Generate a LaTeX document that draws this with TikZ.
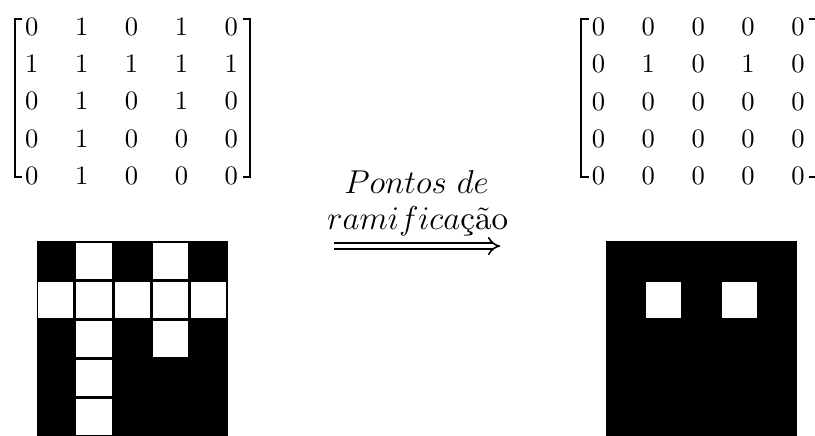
\documentclass[tikz,border=0pt]{standalone}
\usepackage{amsmath}
\usepackage{fontspec}
\usetikzlibrary{matrix,calc,arrows.meta}

\newfontfamily\digfont{lmroman10-regular}[Extension=.otf]

\tikzset{
  binmat/.style={matrix of nodes,
    nodes={minimum width=1.32cm, minimum height=0.985cm, inner sep=0pt,
      font=\digfont\fontsize{20}{24}\selectfont},
    column sep=0pt, row sep=0pt},
  brk/.style={line width=1.6pt},
  lbl/.style={inner sep=0pt, font=\fontsize{24.88}{30}\selectfont},
  pix/.style={fill=white},
}

\begin{document}
\begin{tikzpicture}
			\useasboundingbox (0,0) rectangle (21.56,11.51);

			\matrix (matA) at (3.48,8.83) [binmat] {
				0 & 1 & 0 & 1 & 0 \\
				1 & 1 & 1 & 1 & 1 \\
				0 & 1 & 0 & 1 & 0 \\
				0 & 1 & 0 & 0 & 0 \\
				0 & 1 & 0 & 0 & 0 \\
			};
			\draw[brk] ($(matA-1-1)+(-0.25,0.21)$) -- ++(-0.2,0) |- ($(matA-5-1)+(-0.25,-0.02)$);
			\draw[brk] ($(matA-1-5)+(0.3,0.21)$) -- ++(0.2,0) |- ($(matA-5-5)+(0.3,-0.02)$);

			\matrix (matB) at (18.47,8.83) [binmat] {
				0 & 0 & 0 & 0 & 0 \\
				0 & 1 & 0 & 1 & 0 \\
				0 & 0 & 0 & 0 & 0 \\
				0 & 0 & 0 & 0 & 0 \\
				0 & 0 & 0 & 0 & 0 \\
			};
			\draw[brk] ($(matB-1-1)+(-0.25,0.21)$) -- ++(-0.2,0) |- ($(matB-5-1)+(-0.25,-0.02)$);
			\draw[brk] ($(matB-1-5)+(0.3,0.21)$) -- ++(0.2,0) |- ($(matB-5-5)+(0.3,-0.02)$);

			% arrow with its label
			\node[lbl, anchor=base] (txtA) at (11.02,6.40) {$Pontos\ de$};
			\node[lbl, anchor=base] (txtB) at (11.05,5.45) {$ramifica${\digfont ção}};
			\coordinate (arrS) at (8.84,5.0);
			\coordinate (arrE) at (13.23,5.0);
			\draw[double, double distance=3.5pt, line width=1.2pt, -{Implies[scale=1.25]}] (arrS) -- (arrE);

			% pixel images, white = 1
			\begin{scope}[shift={(0.971,-0.05)}, x=1.01cm, y=1.036cm]
				\fill (0,0) rectangle (5,5);
				\foreach \row [count=\r from 0] in {{0,1,0,1,0},{1,1,1,1,1},{0,1,0,1,0},{0,1,0,0,0},{0,1,0,0,0}}
					\foreach \v [count=\c from 0] in \row
						{\ifnum\v=1 \fill[pix] (\c+0.04,4-\r+0.04) rectangle (\c+0.96,5-\r-0.04); \fi}
			\end{scope}
			\begin{scope}[shift={(16.03,-0.05)}, x=1.01cm, y=1.036cm]
				\fill (0,0) rectangle (5,5);
				\fill[pix] (1.04,3.04) rectangle (1.96,3.96);
				\fill[pix] (3.04,3.04) rectangle (3.96,3.96);
			\end{scope}
\end{tikzpicture}
\end{document}
